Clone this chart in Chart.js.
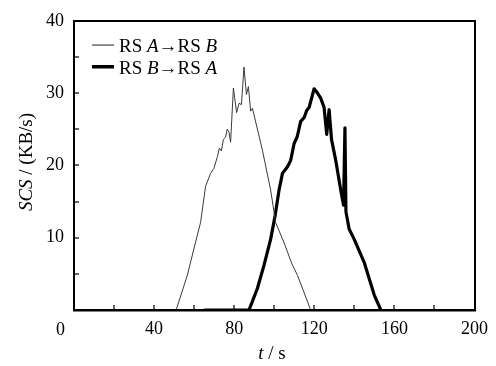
<!DOCTYPE html>
<html>
<head>
<meta charset="utf-8">
<script src="https://cdn.jsdelivr.net/npm/chart.js@4"></script>
<style>
  html, body { margin: 0; padding: 0; background: #fff; }
  canvas { display: block; }
</style>
</head>
<body>
<canvas id="chart" width="496" height="366"></canvas>
<script>
// RS A -> RS B (thin line)
var tAB = [0, 51, 56.6, 60, 63.2, 65.7, 68.2, 69.9, 71.6, 72.6, 73.6, 74.6, 75.7, 76.5, 77.4, 78.2, 79.6, 81.2, 82.4, 83.6, 84.9, 86.1, 87.1, 88.2, 89.1, 94.1, 98.2, 100.7, 104.9, 108.8, 111.6, 118.2];
var sAB = [0, 0, 4.8, 8.6, 12.1, 17.1, 18.9, 19.6, 21.2, 22.4, 22.0, 23.6, 23.9, 25.0, 24.6, 23.2, 30.7, 27.3, 28.6, 28.4, 33.6, 29.8, 30.9, 27.5, 27.9, 22.1, 16.6, 12.1, 9.3, 6.4, 4.8, 0];

// RS B -> RS A (thick line)
var tBA = [65, 87.4, 91.6, 94.9, 98.2, 100.4, 102.4, 104.1, 106.6, 108.2, 109.9, 111.5, 113.2, 114.9, 116.2, 117.4, 119.9, 121.6, 123.2, 124.9, 126.2, 127.4, 128.6, 130.7, 133.2, 134.6, 135.3, 135.8, 137.4, 139.9, 144.9, 149.9, 153.2];
var sBA = [0, 0, 3.0, 6.2, 9.8, 13.0, 16.6, 18.9, 19.8, 20.7, 23.0, 24.0, 26.1, 26.6, 27.6, 28.0, 30.6, 30.0, 29.3, 28.0, 24.3, 27.7, 23.6, 20.7, 16.6, 14.5, 25.2, 13.6, 11.2, 9.8, 6.6, 2.1, 0];

var xLabels = [40, 80, 120, 160, 200];
var yLabels = [10, 20, 30, 40];
var xMarks = [20, 40, 60, 80, 100, 120, 140, 160, 180];
var yMarks = [5, 10, 15, 20, 25, 30, 35];

var serif = '"Liberation Serif", "Times New Roman", "DejaVu Serif", serif';

function pts(ts, vs) {
    return ts.map(function(t, i) { return { x: t, y: vs[i] }; });
}

function richText(ctx, parts, x, y, align) {
    var w = 0;
    parts.forEach(function(p) {
        ctx.font = (p[1] ? 'italic ' : '') + '19px ' + serif;
        w += ctx.measureText(p[0]).width;
    });
    var cx = align === 'center' ? x - w / 2 : x;
    ctx.textAlign = 'left';
    parts.forEach(function(p) {
        ctx.font = (p[1] ? 'italic ' : '') + '19px ' + serif;
        ctx.fillText(p[0], cx, y);
        cx += ctx.measureText(p[0]).width;
    });
}

// frame, inward ticks, legend and axis titles
var decor = {
    id: 'decor',
    afterDraw: function(chart) {
        var ctx = chart.ctx;
        var a = chart.chartArea;
        var xs = chart.scales.x, ys = chart.scales.y;
        var l = Math.round(a.left), r = Math.round(a.right);
        var t = Math.round(a.top), b = Math.round(a.bottom);
        ctx.save();
        ctx.fillStyle = '#000';
        // frame as filled bars
        ctx.fillRect(l - 1, t - 1, r - l + 2, 2);   // top
        ctx.fillRect(r - 1, t - 1, 2, b - t + 2);   // right
        ctx.fillRect(l - 1, t - 1, 2, b - t + 2);   // left
        ctx.fillRect(l - 1, b - 1, r - l + 2, 2.5); // bottom

        xMarks.forEach(function(v) {
            var px = Math.round(xs.getPixelForValue(v));
            ctx.fillRect(px - 0.6, b - 5, 1.2, 5);
        });
        yMarks.forEach(function(v) {
            var py = Math.round(ys.getPixelForValue(v));
            ctx.fillRect(l, py - 0.6, 5, 1.2);
        });

        ctx.textBaseline = 'alphabetic';
        // corner zero
        ctx.font = '18px ' + serif;
        ctx.textAlign = 'center';
        ctx.fillText('0', 60.5, 335);

        // legend
        ctx.fillStyle = '#333';
        ctx.fillRect(92, 44.5, 22, 1.1);
        ctx.fillStyle = '#000';
        ctx.fillRect(92, 65, 22, 3.5);
        richText(ctx, [['RS ', false], ['A', true], ['\u2192RS ', false], ['B', true]], 119, 52, 'left');
        richText(ctx, [['RS ', false], ['B', true], ['\u2192RS ', false], ['A', true]], 119, 73.5, 'left');

        // x title
        richText(ctx, [['t', true], [' / s', false]], 272, 359, 'center');

        // y title
        ctx.save();
        ctx.translate(32, 162);
        ctx.rotate(-Math.PI / 2);
        richText(ctx, [['SCS', true], [' / (KB/s)', false]], 0, 0, 'center');
        ctx.restore();
        ctx.restore();
    }
};

new Chart(document.getElementById('chart'), {
    type: 'line',
    data: {
        datasets: [{
            label: 'RS A\u2192RS B',
            data: pts(tAB, sAB),
            borderColor: '#3a3a3a',
            borderWidth: 1,
            pointRadius: 0,
            tension: 0,
            fill: false
        }, {
            label: 'RS B\u2192RS A',
            data: pts(tBA, sBA),
            borderColor: '#000',
            borderWidth: 3.2,
            pointRadius: 0,
            tension: 0,
            fill: false,
            borderJoinStyle: 'round'
        }]
    },
    options: {
        responsive: false,
        animation: false,
        layout: { padding: { top: 16, right: 20, left: 0, bottom: 0 } },
        plugins: {
            legend: { display: false },
            tooltip: { enabled: false }
        },
        scales: {
            x: {
                type: 'linear',
                min: 0,
                max: 200,
                grid: { display: false, drawTicks: false },
                border: { display: false },
                ticks: {
                    stepSize: 40,
                    autoSkip: false,
                    maxRotation: 0,
                    padding: 8,
                    color: '#000',
                    font: { family: serif, size: 18 },
                    callback: function(v) { return xLabels.indexOf(v) >= 0 ? String(v) : ''; }
                },
                afterFit: function(s) { s.height = 56; }
            },
            y: {
                type: 'linear',
                min: 0,
                max: 40,
                grid: { display: false, drawTicks: false },
                border: { display: false },
                ticks: {
                    stepSize: 10,
                    autoSkip: false,
                    padding: 10,
                    color: '#000',
                    font: { family: serif, size: 18 },
                    callback: function(v) { return yLabels.indexOf(v) >= 0 ? String(v) : ''; }
                },
                afterFit: function(s) { s.width = 74; }
            }
        }
    },
    plugins: [decor]
});
</script>
</body>
</html>
